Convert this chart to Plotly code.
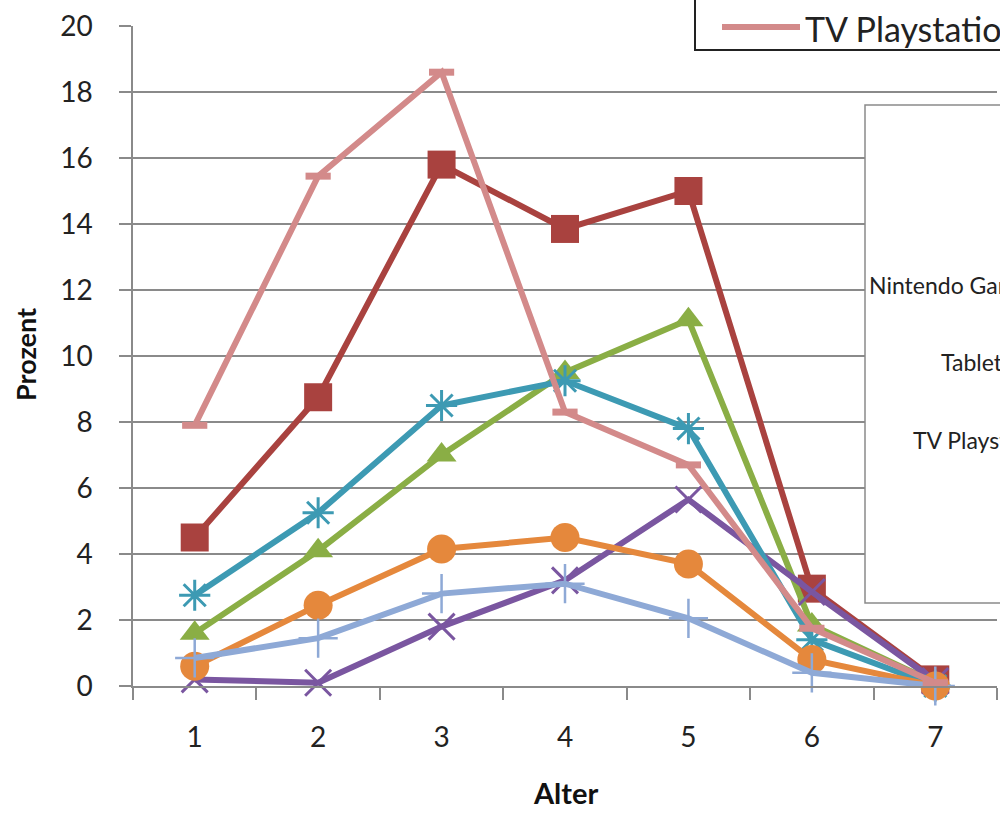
import plotly.graph_objects as go

# ---- data ----
alter = ["1", "2", "3", "4", "5", "6", "7"]
computer = [4.5, 8.75, 15.8, 13.85, 15.0, 2.95, 0.2]
handy = [1.6, 4.1, 7.0, 9.5, 11.1, 1.85, 0.1]
nintendo_ds = [0.2, 0.1, 1.8, 3.2, 5.65, 2.85, 0.15]
wii = [2.75, 5.25, 8.5, 9.25, 7.8, 1.4, 0.0]
gameboy = [0.6, 2.45, 4.15, 4.5, 3.7, 0.8, 0.0]
tablet = [0.85, 1.45, 2.8, 3.1, 2.05, 0.4, 0.0]
tv_playstation = [7.9, 15.45, 18.6, 8.3, 6.7, 1.75, 0.1]

series_names = ["Computer", "Handy", "Nintendo DS", "Nintendo Wii",
                "Nintendo Gameboy", "Tablet", "TV Playstation"]
box_labels = ["Nintendo Gameboy", "Tablet", "TV Playstation"]
y_ticks = list(range(0, 21, 2))

# ---- styles ----
W, H = 1000, 815
L, R, T, B = 133, 997, 26, 686
styles = [
    dict(color="#A9423F", symbol="square", size=28, lw=0),
    dict(color="#8AAE45", symbol="triangle-up", size=26, lw=0),
    dict(color="#7A56A0", symbol="x-thin-open", size=26, lw=3),
    dict(color="#3D9AB3", symbol="asterisk-open", size=26, lw=3),
    dict(color="#E5883C", symbol="circle", size=29, lw=0),
    dict(color="#8EA9D6", symbol="cross-thin-open", size=28, lw=2.5),
    dict(color="#D38A8A", symbol="line-ew-open", size=18, lw=7),
]
data = [computer, handy, nintendo_ds, wii, gameboy, tablet, tv_playstation]

fig = go.Figure()
for name, vals, st in zip(series_names, data, styles):
    fig.add_trace(go.Scatter(
        x=alter, y=vals, name=name, mode="lines+markers",
        line=dict(color=st["color"], width=6),
        marker=dict(symbol=st["symbol"], size=st["size"], color=st["color"],
                    line=dict(color=st["color"], width=st["lw"])),
        cliponaxis=False, showlegend=False,
    ))


def px_x(p):
    return (p - L) / (R - L)


def px_y(p):
    return (B - p) / (B - T)


shapes = []
annotations = []
# top legend box (cropped)
shapes.append(dict(type="rect", xref="paper", yref="paper",
                   x0=px_x(695), x1=px_x(1020), y0=px_y(50), y1=px_y(-20),
                   line=dict(color="#222222", width=2), fillcolor="white", layer="above"))
shapes.append(dict(type="line", xref="paper", yref="paper",
                   x0=px_x(722), x1=px_x(800), y0=px_y(27), y1=px_y(27),
                   line=dict(color="#D38A8A", width=6), layer="above"))
annotations.append(dict(text="TV Playstation", xref="paper", yref="paper",
                        x=px_x(803), y=px_y(28), xanchor="left", yanchor="middle",
                        showarrow=False, font=dict(family="Lato", size=34, color="#222222")))
# second box (cropped)
shapes.append(dict(type="rect", xref="paper", yref="paper",
                   x0=px_x(865), x1=px_x(1020), y0=px_y(603), y1=px_y(105),
                   line=dict(color="#8A8A8A", width=1.5), fillcolor="white", layer="above"))
for lbl, lx, ly in zip(box_labels, [867, 939, 911], [285, 362, 440]):
    annotations.append(dict(text=lbl, xref="paper", yref="paper",
                            x=px_x(lx), y=px_y(ly), xanchor="left", yanchor="middle",
                            showarrow=False, font=dict(family="Lato", size=23, color="#222222")))
# axis titles
annotations.append(dict(text="<b>Alter</b>", xref="paper", yref="paper",
                        x=px_x(565), y=px_y(792), xanchor="center", yanchor="middle",
                        showarrow=False, font=dict(family="Lato", size=29, color="#111111")))
annotations.append(dict(text="<b>Prozent</b>", xref="paper", yref="paper",
                        x=px_x(25), y=px_y(355), xanchor="center", yanchor="middle",
                        textangle=-90, showarrow=False,
                        font=dict(family="Lato", size=27, color="#111111")))

fig.update_layout(
    width=W, height=H,
    margin=dict(l=L, r=W - R, t=T, b=H - B, pad=0),
    plot_bgcolor="white", paper_bgcolor="white",
    shapes=shapes, annotations=annotations,
    xaxis=dict(type="category", range=[-0.5, 6.5], tickson="boundaries",
               showgrid=False, showline=True, linecolor="#8A8A8A", linewidth=1.5,
               ticks="outside", ticklen=12, tickcolor="#8A8A8A", tickwidth=1.5,
               ticklabelstandoff=26,
               tickfont=dict(family="Lato", size=28, color="#222222")),
    yaxis=dict(range=[0, 20], tickvals=y_ticks, showgrid=True, gridcolor="#8A8A8A",
               gridwidth=1.5, zeroline=False, showline=True, linecolor="#8A8A8A",
               linewidth=1.5, ticks="outside", ticklen=12, tickcolor="#8A8A8A",
               tickwidth=1.5, ticklabelstandoff=21,
               tickfont=dict(family="Lato", size=28, color="#222222")),
)

fig.write_html("out.html", config={"displayModeBar": False},
               post_script="document.body.style.margin='0';document.body.style.overflow='hidden';")
